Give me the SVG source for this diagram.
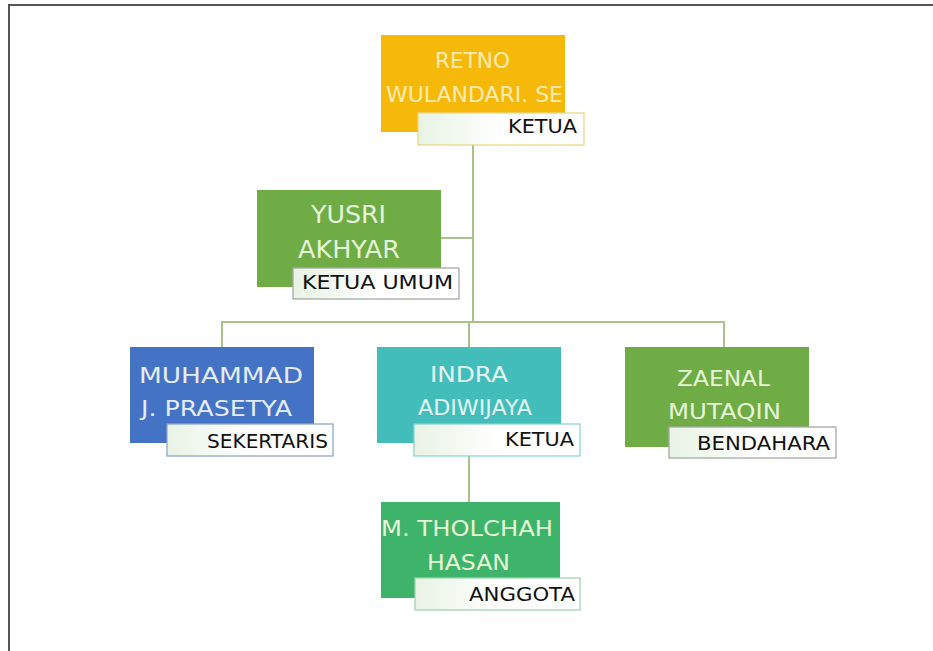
<svg xmlns="http://www.w3.org/2000/svg" width="933" height="651" viewBox="0 0 933 651">
<style>
.name{font-family:"DejaVu Sans","Liberation Sans",sans-serif;font-size:22px;fill:#E6F4D8}
.lbl{stroke-width:1.3}
.lt{font-family:"DejaVu Sans","Liberation Sans",sans-serif;font-size:20px;fill:#111111}
.con{stroke:#A9C28A;stroke-width:2;fill:none}
</style>
<defs>
<linearGradient id="lg" x1="0" y1="0" x2="1" y2="0">
<stop offset="0" stop-color="#E8F3E4"/>
<stop offset="0.5" stop-color="#FFFFFF"/>
<stop offset="1" stop-color="#FFFFFF"/>
</linearGradient>
</defs>
<rect x="0" y="0" width="933" height="651" fill="#FFFFFF"/>
<path d="M9 651 V5 H933" fill="none" stroke="#555555" stroke-width="2"/>
<g id="connectors">
<path class="con" d="M473 145 V322"/>
<path class="con" d="M441 238 H473"/>
<path class="con" d="M222 347 V322 H724 V347"/>
<path class="con" d="M469 322 V347"/>
<path class="con" d="M469 456 V502"/>
</g>
<g id="retno">
<rect x="381" y="35" width="184" height="97" fill="#F6B90A"/>
<text class="name" x="435" y="68" textLength="75" lengthAdjust="spacingAndGlyphs" style="fill:#FBEBB5">RETNO</text>
<text class="name" x="386" y="102" textLength="177" lengthAdjust="spacingAndGlyphs" style="fill:#FBEBB5">WULANDARI. SE</text>
<rect class="lbl" x="418" y="113" width="166" height="32" fill="url(#lg)" stroke="#E9D98A"/>
<text class="lt" x="508" y="133" textLength="69" lengthAdjust="spacingAndGlyphs">KETUA</text>
</g>
<g id="yusri">
<rect x="257" y="190" width="184" height="97" fill="#6FAC46"/>
<text class="name" x="311" y="223" textLength="75" lengthAdjust="spacingAndGlyphs" style="font-size:24px">YUSRI</text>
<text class="name" x="298" y="258" textLength="102" lengthAdjust="spacingAndGlyphs" style="font-size:24px">AKHYAR</text>
<rect class="lbl" x="293" y="268" width="166" height="31" fill="url(#lg)" stroke="#A8A8A8"/>
<text class="lt" x="302" y="289" textLength="151" lengthAdjust="spacingAndGlyphs">KETUA UMUM</text>
</g>
<g id="muhammad">
<rect x="130" y="347" width="184" height="96" fill="#4472C4"/>
<text class="name" x="139" y="383" textLength="164" lengthAdjust="spacingAndGlyphs" style="fill:#E4ECF7">MUHAMMAD</text>
<text class="name" x="141" y="416" textLength="151" lengthAdjust="spacingAndGlyphs" style="fill:#E4ECF7">J. PRASETYA</text>
<rect class="lbl" x="167" y="424" width="166" height="32" fill="url(#lg)" stroke="#8FA6CF"/>
<text class="lt" x="207" y="448" textLength="121" lengthAdjust="spacingAndGlyphs">SEKERTARIS</text>
</g>
<g id="indra">
<rect x="377" y="347" width="184" height="96" fill="#42BDBA"/>
<text class="name" x="430" y="382" textLength="78" lengthAdjust="spacingAndGlyphs" style="fill:#E2F5F3">INDRA</text>
<text class="name" x="418" y="415" textLength="114" lengthAdjust="spacingAndGlyphs" style="fill:#E2F5F3">ADIWIJAYA</text>
<rect class="lbl" x="414" y="424" width="166" height="32" fill="url(#lg)" stroke="#8FD3CF"/>
<text class="lt" x="505" y="446" textLength="69" lengthAdjust="spacingAndGlyphs">KETUA</text>
</g>
<g id="zaenal">
<rect x="625" y="347" width="184" height="100" fill="#6FAC46"/>
<text class="name" x="677" y="386" textLength="93" lengthAdjust="spacingAndGlyphs">ZAENAL</text>
<text class="name" x="668" y="419" textLength="113" lengthAdjust="spacingAndGlyphs">MUTAQIN</text>
<rect class="lbl" x="669" y="427" width="167" height="31" fill="url(#lg)" stroke="#A8A8A8"/>
<text class="lt" x="697" y="450" textLength="133" lengthAdjust="spacingAndGlyphs">BENDAHARA</text>
</g>
<g id="tholchah">
<rect x="381" y="502" width="179" height="96" fill="#3DB46A"/>
<text class="name" x="381" y="536" textLength="172" lengthAdjust="spacingAndGlyphs">M. THOLCHAH</text>
<text class="name" x="427" y="570" textLength="83" lengthAdjust="spacingAndGlyphs">HASAN</text>
<rect class="lbl" x="415" y="578" width="165" height="32" fill="url(#lg)" stroke="#9FD3B4"/>
<text class="lt" x="469" y="601" textLength="106" lengthAdjust="spacingAndGlyphs">ANGGOTA</text>
</g>
</svg>
